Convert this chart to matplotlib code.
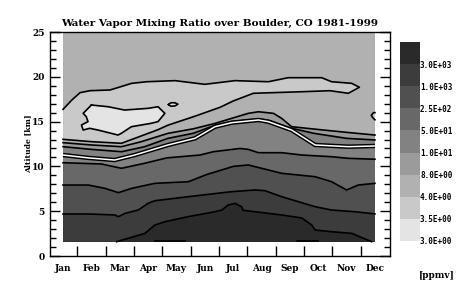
import numpy as np
import matplotlib.pyplot as plt
from matplotlib.colors import ListedColormap, BoundaryNorm
from matplotlib.cm import ScalarMappable

months = ['Jan', 'Feb', 'Mar', 'Apr', 'May', 'Jun',
          'Jul', 'Aug', 'Sep', 'Oct', 'Nov', 'Dec']
levels = [3.0, 3.5, 4.0, 8.0, 10.0, 50.0, 250.0, 1000.0, 3000.0]
# band colours, lowest value band first
grays = ['#e4e4e4', '#c9c9c9', '#b1b1b1', '#9b9b9b', '#828282',
         '#686868', '#505050', '#3c3c3c', '#2a2a2a']

ground = 1.6   # Boulder surface altitude [km]
top = 25.0

# contour lines: (month, altitude km)
c3000 = [(1, 1.6), (2.89, 1.6), (3.42, 2.09), (3.89, 2.53), (4.24, 3.46), (4.6, 3.83),
         (5.41, 4.39), (6.36, 4.94), (6.6, 5.13), (6.82, 5.69), (7.06, 5.88), (7.3, 5.5),
         (7.35, 5.1), (8.71, 4.58), (9.42, 4.24), (9.77, 3.46), (9.89, 2.9), (10.47, 2.71),
         (11.18, 2.53), (11.88, 1.6), (12, 1.6)]
c1000 = [(1, 4.69), (1.88, 4.69), (2.83, 4.58), (2.95, 4.39), (3.19, 4.76), (3.65, 5.13),
         (4.0, 5.88), (4.24, 6.17), (5.42, 6.62), (6.45, 7.0), (6.95, 7.18), (7.77, 7.37),
         (8.12, 7.29), (8.71, 6.62), (9.3, 6.06), (9.89, 5.5), (10.47, 5.13), (11.3, 4.94),
         (12, 4.7)]
c250 = [(1, 7.92), (1.89, 7.92), (2.48, 7.55), (2.95, 7.07), (3.42, 7.55), (4.24, 8.11),
        (5.42, 8.29), (6.07, 9.1), (6.54, 9.55), (7.0, 10.0), (7.53, 10.16), (8.71, 9.23),
        (9.89, 8.85), (10.47, 8.29), (11.0, 7.37), (11.41, 7.92), (12, 8.11)]
c50 = [(1, 10.41), (2.35, 10.27), (3.06, 9.79), (3.88, 10.35), (4.66, 10.95), (5.83, 11.27),
       (6.3, 11.64), (7.24, 12.0), (7.53, 11.9), (7.89, 11.53), (8.71, 11.53), (9.42, 11.27),
       (10.47, 11.08), (11.06, 10.9), (12, 10.8)]
c10 = [(1, 12.2), (2.0, 11.9), (3.06, 11.64), (3.88, 12.2), (4.7, 13.13), (5.6, 13.7),
       (6.36, 14.6), (6.95, 15.0), (7.89, 15.3), (8.3, 15.1), (9.0, 14.3), (9.83, 13.7),
       (11.0, 13.13), (12, 12.95)]
c8 = [(1, 12.65), (2.0, 12.39), (3.06, 12.2), (3.76, 12.76), (4.7, 13.69), (5.6, 14.2),
      (6.36, 14.8), (7.53, 15.92), (7.89, 16.1), (8.42, 15.92), (8.71, 15.36), (9.06, 14.43),
      (10.18, 14.06), (11.0, 13.8), (12, 13.5)]
# 3.5-4 ppmv region: upper edge then lower edge back to January
c4_upper = [(1, 16.37), (1.31, 17.41), (1.6, 18.23), (1.95, 18.45), (2.66, 18.53), (3.42, 19.27),
            (3.95, 19.45), (4.95, 19.57), (6.0, 19.16), (7.06, 19.57), (8.24, 19.45), (8.94, 19.9),
            (10.12, 19.9), (10.47, 19.45), (11.18, 19.27), (11.45, 18.83)]
c4_lower = [(11.45, 18.83), (11.06, 18.16), (10.41, 18.45), (9.47, 18.34), (7.71, 18.16),
            (7.0, 17.3), (6.54, 16.6), (5.65, 15.6), (4.7, 14.6), (4.35, 14.1), (3.53, 13.13),
            (3.06, 12.58), (2.0, 12.76), (1, 13.02)]
c4_dec = [(12, 15.2), (11.92, 15.45), (11.87, 15.7), (11.95, 16.0), (12, 16.0)]
# 3.0-3.5 ppmv minimum
c35_blob = [(2.0, 16.85), (2.59, 16.66), (3.17, 16.29), (4.0, 16.48), (4.35, 16.66), (4.59, 15.92),
            (4.35, 15.0), (4.11, 14.81), (3.41, 14.43), (3.06, 13.7), (2.94, 13.5), (2.23, 14.06),
            (1.94, 14.25), (1.71, 14.06), (1.65, 14.62), (1.88, 15.0), (1.82, 15.55), (1.71, 15.92),
            (2.0, 16.85)]
c35_isle = [(4.72, 16.9), (4.8, 17.1), (4.95, 17.1), (5.05, 16.95), (4.95, 16.75), (4.8, 16.72),
            (4.72, 16.9)]
ground_lines = [[(4.24, 1.66), (5.3, 1.66)], [(9.25, 1.66), (9.99, 1.66)]]
# mean tropopause
tropopause = [(1, 11.27), (1.89, 10.95), (2.82, 10.71), (3.53, 11.27), (4.7, 12.39), (5.65, 13.13),
              (6.36, 14.43), (6.95, 14.88), (7.89, 15.18), (8.24, 14.99), (9.06, 14.06),
              (9.89, 12.39), (11.06, 12.2), (12, 12.28)]

font = 'DejaVu Serif'

fig = plt.figure(figsize=(4.61, 2.90), dpi=100)
ax = fig.add_axes([50/461, 34/290, 340/461, 224/290])


def xy(pts):
    return [p[0] for p in pts], [p[1] for p in pts]


# base rectangle, then paint each band above its lower contour
ax.fill([1, 12, 12, 1], [ground, ground, top, top], color=grays[8], lw=0)
stack = [c3000, c1000, c250, c50, c10, c8]
for i, c in enumerate(stack):
    x, y = xy(c + [(12, top), (1, top)])
    ax.fill(x, y, color=grays[7 - i], lw=0)

x, y = xy(c4_upper + c4_lower)
ax.fill(x, y, color=grays[1], lw=0)
x, y = xy(c4_dec)
ax.fill(x, y, color=grays[1], lw=0)
for c in (c35_blob, c35_isle):
    x, y = xy(c)
    ax.fill(x, y, color=grays[0], lw=0)

lw = 1.2
for c in [c3000[1:-1], c1000, c250, c50, c10, c8, c4_upper + c4_lower[1:], c4_dec,
          c35_blob, c35_isle] + ground_lines:
    x, y = xy(c)
    ax.plot(x, y, color='black', lw=lw)

x, y = xy(tropopause)
ax.plot(x, y, color='black', lw=3.2, solid_capstyle='butt')
ax.plot(x, y, color='white', lw=1.1, solid_capstyle='butt')

ax.set_xlim(0.54, 12.53)
ax.set_ylim(0, 25)
ax.set_xticks(range(1, 13))
ax.set_xticklabels(months, fontfamily=font, fontweight='bold', fontsize=6.5)
ax.set_xticks(np.arange(1.5, 12, 1), minor=True)
ax.tick_params(axis='x', which='major', length=0, pad=6)
ax.tick_params(axis='x', which='minor', length=7, width=1, direction='in', top=False)
ax.set_yticks(range(0, 26, 5))
ax.set_yticks(range(0, 26), minor=True)
ax.set_yticklabels([str(v) for v in range(0, 26, 5)], fontfamily=font,
                   fontweight='bold', fontsize=6.5)
ax.tick_params(axis='y', which='major', length=7, width=1, direction='in',
               left=True, right=True, pad=4)
ax.tick_params(axis='y', which='minor', length=4, width=1, direction='in',
               left=True, right=True)
for s in ax.spines.values():
    s.set_linewidth(1.0)

fig.text(220/461, 1 - 23/290, 'Water Vapor Mixing Ratio over Boulder, CO 1981-1999',
         ha='center', va='center', fontfamily=font, fontweight='bold', fontsize=7.5)
fig.text(28/461, 1 - 144/290, 'Altitude [km]', rotation=90, ha='center', va='center',
         fontfamily=font, fontweight='bold', fontsize=5.5)
fig.text(437/461, 1 - 275/290, '[ppmv]', ha='center', va='center',
         fontfamily=font, fontweight='bold', fontsize=6.5)

# colour bar
cax = fig.add_axes([400/461, 49/290, 20/461, 199/290])
norm = BoundaryNorm(levels + [9000.0], len(grays))
sm = ScalarMappable(norm=norm, cmap=ListedColormap(grays))
cb = fig.colorbar(sm, cax=cax, spacing='uniform', ticks=levels)
cb.outline.set_visible(False)
cb.ax.minorticks_off()
cb.ax.set_yticks(levels)
cb.ax.set_yticklabels(['%.1E' % v for v in levels], fontfamily='DejaVu Sans Mono',
                      fontweight='bold', fontsize=5.5)
cb.ax.tick_params(which='both', length=0, pad=0)

fig.savefig('out.png', dpi=100)
